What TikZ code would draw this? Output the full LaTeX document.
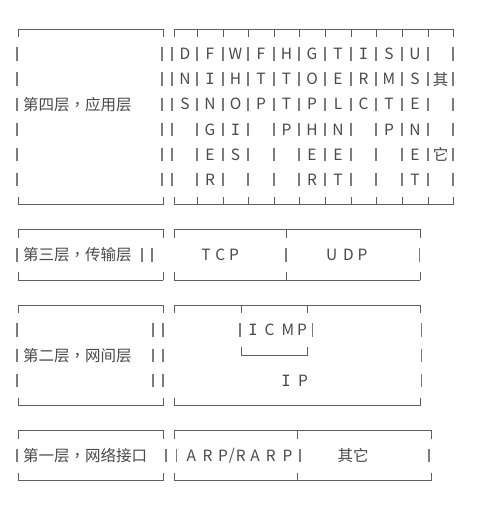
\documentclass[tikz,border=0pt]{standalone}
\usepackage{fontspec}
\setmainfont{Noto Sans CJK SC}
\newfontfamily\cjktc{Noto Sans CJK TC}
\newfontfamily\monoI{DejaVu Sans Mono}
\definecolor{linegray}{HTML}{5E5E5E}
\definecolor{bargray}{HTML}{7C7C80}
\definecolor{txtgray}{HTML}{4A4A4A}
\newcommand\sI{{\monoI I}}
\newcommand\cm{{\cjktc ，}}
\newcommand\slashch{/}
\tikzset{
  hl/.style={draw=linegray, line width=0.9pt, line cap=rect},
  bar/.style={draw=bargray, line width=1.1pt},
  lbl/.style={text=txtgray, font=\fontsize{15.5}{18}\selectfont, inner sep=0pt},
}
\newcommand\vb[2]{%
  \draw[bar] (#1,{#2-0.27}) -- (#1,{#2+0.27});}
\newcommand\ftop[4]{%
  \draw[hl] (#1,#3) -- (#2,#3);
  \foreach \t in {#4} {\draw[hl] (\t,#3) -- (\t,{#3+0.3});}}
\newcommand\fbot[4]{%
  \draw[hl] (#1,#3) -- (#2,#3);
  \foreach \t in {#4} {\draw[hl] (\t,#3) -- (\t,{#3-0.3});}}
\begin{document}
\begin{tikzpicture}[x=1pt,y=-25.1pt]
\useasboundingbox[fill=white] (0,-1.1554) rectangle (488,18.964);

% ---------------- Layer 4 ----------------
\ftop{18}{163}{0}{18,163}
\fbot{18}{163}{7}{18,163}
\foreach \k in {1,...,6} {\vb{17}{\k}\vb{162}{\k}}
\node[lbl, anchor=west] (l4) at (23,3) {第四层\cm 应用层};

\ftop{174}{453}{0}{174,197,223,248,274,299,325,351,376,402,428,453}
\fbot{174}{453}{7}{174,197,223,248,274,299,325,351,376,402,428,453}
\foreach \k in {1,...,6} {
  \foreach \s in {172,197,223,248,274,299,325,351,376,402,428,453} {\vb{\s}{\k}}
}
\foreach \l [count=\r] in {D,N,S} {\node[lbl] (dns\r) at (185,\r) {\l};}
\foreach \l [count=\r] in {F,\sI,N,G,E,R} {\node[lbl] (finger\r) at (210,\r) {\l};}
\foreach \l [count=\r] in {W,H,O,\sI,S} {\node[lbl] (whois\r) at (235.5,\r) {\l};}
\foreach \l [count=\r] in {F,T,P} {\node[lbl] (ftp\r) at (261,\r) {\l};}
\foreach \l [count=\r] in {H,T,T,P} {\node[lbl] (http\r) at (286.5,\r) {\l};}
\foreach \l [count=\r] in {G,O,P,H,E,R} {\node[lbl] (gopher\r) at (312,\r) {\l};}
\foreach \l [count=\r] in {T,E,L,N,E,T} {\node[lbl] (telnet\r) at (338,\r) {\l};}
\foreach \l [count=\r] in {\sI,R,C} {\node[lbl] (irc\r) at (363.5,\r) {\l};}
\foreach \l [count=\r] in {S,M,T,P} {\node[lbl] (smtp\r) at (389,\r) {\l};}
\foreach \l [count=\r] in {U,S,E,N,E,T} {\node[lbl] (usenet\r) at (415,\r) {\l};}
\node[lbl] (qi4) at (440.5,2) {其};
\node[lbl] (ta4) at (440.5,5) {它};

% ---------------- Layer 3 ----------------
\ftop{18}{163}{8}{18,163}
\fbot{18}{163}{10}{18,163}
\vb{17}{9}\vb{142}{9}\vb{152}{9}
\node[lbl, anchor=west] (l3) at (23,9) {第三层\cm 传输层};
\ftop{174}{420}{8}{174,286,420}
\fbot{174}{420}{10}{174,286,420}
\vb{286}{9}\vb{419.5}{9}
\foreach \l/\x [count=\c] in {T/206,C/220.3,P/234} {\node[lbl] (tcp\c) at (\x,9) {\l};}
\foreach \l/\x [count=\c] in {U/331.7,D/348.5,P/362.5} {\node[lbl] (udp\c) at (\x,9) {\l};}

% ---------------- Layer 2 ----------------
\ftop{18}{163}{11}{18,163}
\fbot{18}{163}{15}{18,163}
\foreach \k in {12,13,14} {\vb{17}{\k}\vb{153}{\k}\vb{163}{\k}\vb{421.5}{\k}}
\node[lbl, anchor=west] (l2) at (23,13) {第二层\cm 网间层};
\ftop{174}{420}{11}{174,241,307,420}
\fbot{174}{420}{15}{174,420}
\vb{240}{12}\vb{312.5}{12}
\fbot{241}{307}{13}{241,307}
\foreach \l/\x [count=\c] in {\sI/253,C/269.5,M/288,P/302} {\node[lbl] (icmp\c) at (\x,12) {\l};}
\foreach \l/\x [count=\c] in {\sI/286,P/303} {\node[lbl] (ip\c) at (\x,14) {\l};}

% ---------------- Layer 1 ----------------
\ftop{18}{163}{16}{18,163}
\fbot{18}{163}{18}{18,163}
\vb{17}{17}\vb{166}{17}\vb{176.5}{17}
\node[lbl, anchor=west] (l1) at (23,17) {第一层\cm 网络接口};
\ftop{174}{431}{16}{174,297,431}
\fbot{174}{431}{18}{174,297,431}
\vb{300}{17}\vb{429}{17}
\foreach \l/\x [count=\c] in {A/191.3,R/207.5,P/223,\slashch/232,R/240.8,A/255,R/270.8,P/287.5} {\node[lbl] (arp\c) at (\x,17) {\l};}
\node[lbl] (qt1) at (353,17) {其它};
\end{tikzpicture}
\end{document}
